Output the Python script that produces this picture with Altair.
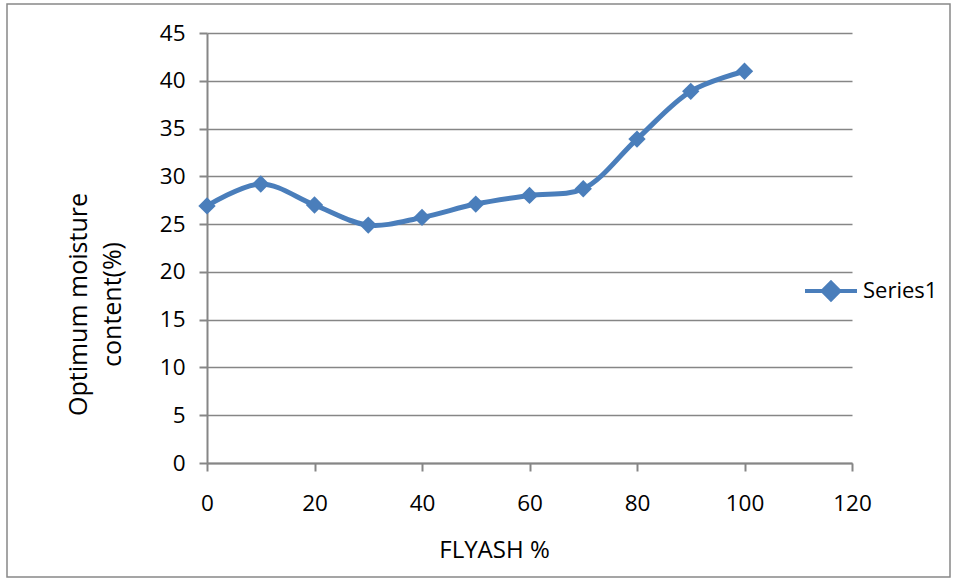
import altair as alt
import pandas as pd

flyash = [0, 10, 20, 30, 40, 50, 60, 70, 80, 90, 100]
omc = [26.9, 29.2, 27.0, 24.9, 25.7, 27.1, 28.0, 28.7, 33.9, 38.9, 41.0]
series_name = ["Series1"] * len(flyash)

x_ticks = [0, 20, 40, 60, 80, 100, 120]
y_ticks = [0, 5, 10, 15, 20, 25, 30, 35, 40, 45]

df = pd.DataFrame({"FLYASH": flyash, "OMC": omc, "Series": series_name})

FONT = "Open Sans"
BLUE = "#4a7ebb"
GRAY = "#868686"

x_enc = alt.X(
    "FLYASH:Q",
    scale=alt.Scale(domain=[0, 120], nice=False, zero=False),
    axis=alt.Axis(
        values=x_ticks,
        title="FLYASH %",
        grid=False,
        domainColor=GRAY,
        domainWidth=2,
        tickColor=GRAY,
        tickWidth=2,
        tickSize=8,
        labelFont=FONT,
        labelFontSize=22.5,
        labelColor="#000000",
        labelPadding=21,
        labelFlush=False,
        labelOverlap=False,
        titleFont=FONT,
        titleFontSize=24,
        titleFontWeight="normal",
        titleColor="#000000",
        titleX=287,
        titleY=87,
        titleAlign="center",
        titleBaseline="middle",
    ),
)
y_enc = alt.Y(
    "OMC:Q",
    scale=alt.Scale(domain=[0, 45], nice=False),
    axis=alt.Axis(
        values=y_ticks,
        title=["Optimum moisture", "content(%)"],
        grid=True,
        gridColor=GRAY,
        gridWidth=1.5,
        domainColor=GRAY,
        domainWidth=2,
        tickColor=GRAY,
        tickWidth=2,
        tickSize=8,
        labelFont=FONT,
        labelFontSize=22.5,
        labelColor="#000000",
        labelPadding=14,
        labelFlush=False,
        labelOverlap=False,
        titleFont=FONT,
        titleFontSize=25,
        titleFontWeight="normal",
        titleColor="#000000",
        titleAngle=270,
        titleX=-129,
        titleY=271,
        titleAlign="center",
        titleBaseline="middle",
        titleLineHeight=34,
    ),
)

color_enc = alt.Color(
    "Series:N",
    scale=alt.Scale(domain=["Series1"], range=[BLUE]),
    legend=alt.Legend(
        title=None,
        orient="none",
        legendX=596,
        legendY=230,
        symbolType="M-1,0H1M0,-0.32L0.32,0L0,0.32L-0.32,0Z",
        symbolSize=2700,
        symbolStrokeWidth=4,
        symbolFillColor=BLUE,
        symbolStrokeColor=BLUE,
        labelFont=FONT,
        labelFontSize=22,
        labelColor="#000000",
        labelOffset=4,
    ),
)

line = alt.Chart(df).mark_line(
    interpolate="catmull-rom", strokeWidth=5, color=BLUE
).encode(x=x_enc, y=y_enc, color=color_enc)

points = alt.Chart(df).mark_point(
    shape="diamond", size=300, filled=True, opacity=1, color=BLUE
).encode(x="FLYASH:Q", y="OMC:Q")

frame = alt.Chart(pd.DataFrame({"a": [0]})).mark_rect(
    fill=None, stroke="#888888", strokeWidth=1.5
).encode(
    x=alt.value(-200), x2=alt.value(743), y=alt.value(-29), y2=alt.value(544)
)

chart = (
    alt.layer(frame, line, points)
    .properties(
        width=645,
        height=430,
        autosize=alt.AutoSizeParams(type="none"),
        padding={"left": 207, "top": 33, "right": 108, "bottom": 118},
        background="#ffffff",
    )
    .configure_view(stroke=None)
)

chart.save("out.html", embed_options={"renderer": "svg", "actions": False})
